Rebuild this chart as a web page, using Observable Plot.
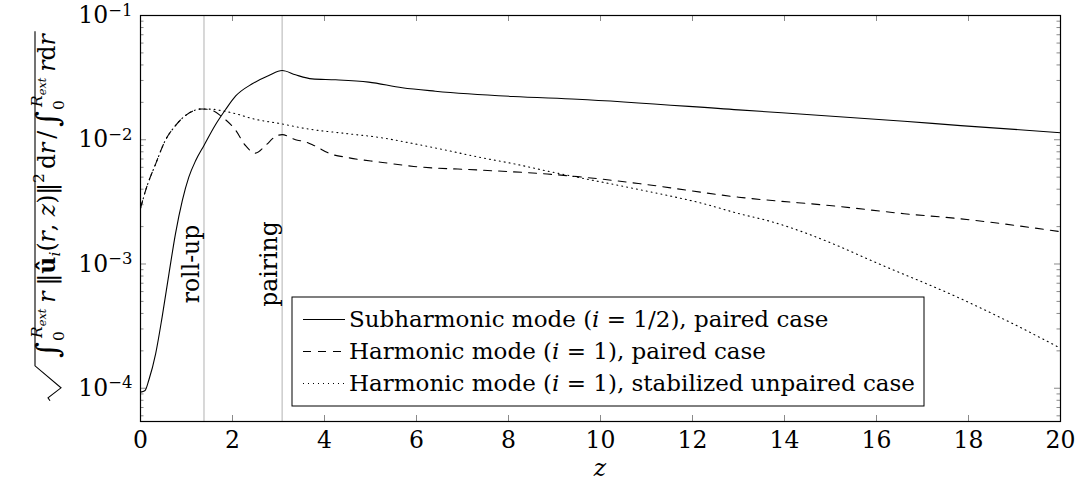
<!DOCTYPE html>
<html><head><meta charset="utf-8">
<script src="https://cdn.jsdelivr.net/npm/d3@7"></script>
<script src="https://cdn.jsdelivr.net/npm/@observablehq/plot@0.6"></script>
<style>body{margin:0;background:#fff}</style>
</head><body><div id="chart"></div>
<script>
// ---- data ----
const subZ = [0, 0.1, 0.18, 0.33, 0.47, 0.62, 0.76, 0.91, 1.05, 1.2, 1.38, 1.63, 1.85, 2.07, 2.43, 2.79, 3.08, 3.37, 3.73, 4.24, 4.96, 5.69, 6.41, 8.1, 9.5, 13.0, 16.6, 17.83, 20];
const subV = [9.3e-5, 9.6e-5, 1.16e-4, 1.9e-4, 3.74e-4, 8.4e-4, 1.75e-3, 3.25e-3, 5.0e-3, 6.8e-3, 9.0e-3, 0.0132, 0.0175, 0.0225, 0.0282, 0.0329, 0.0361, 0.0333, 0.0309, 0.0304, 0.0291, 0.0262, 0.0246, 0.0223, 0.0212, 0.0174, 0.0141, 0.0130, 0.0114];

const harmZ = [0, 0.11, 0.33, 0.54, 0.76, 0.98, 1.34, 1.56, 1.78, 2.07, 2.28, 2.5, 2.72, 2.93, 3.08, 3.37, 3.59, 3.77, 4.13, 4.49, 5.22, 5.94, 7.39, 8.84, 9.5, 10.87, 13.0, 15.2, 16.6, 17.83, 20];
const harmV = [2.8e-3, 3.9e-3, 6.4e-3, 9.9e-3, 0.0130, 0.0157, 0.0177, 0.0172, 0.0152, 0.0119, 9.0e-3, 7.8e-3, 9.0e-3, 0.0106, 0.0110, 0.0100, 9.6e-3, 9.0e-3, 7.7e-3, 7.2e-3, 6.6e-3, 6.1e-3, 5.7e-3, 5.3e-3, 5.05e-3, 4.42e-3, 3.45e-3, 2.9e-3, 2.54e-3, 2.31e-3, 1.82e-3];

const stabZ = [0, 0.11, 0.33, 0.54, 0.76, 0.98, 1.34, 1.56, 1.78, 2.07, 2.43, 3.08, 3.59, 4.49, 5.22, 5.94, 6.67, 7.39, 8.12, 8.84, 9.49, 10.8, 12.25, 13.0, 13.7, 15.2, 15.8, 17.83, 18.9, 20];
const stabV = [2.8e-3, 3.9e-3, 6.4e-3, 9.9e-3, 0.0130, 0.0157, 0.0177, 0.0176, 0.0171, 0.0162, 0.0148, 0.0134, 0.0123, 0.0112, 0.0104, 9.3e-3, 8.2e-3, 7.2e-3, 6.4e-3, 5.6e-3, 5.0e-3, 4.0e-3, 3.05e-3, 2.55e-3, 2.2e-3, 1.38e-3, 1.1e-3, 5.26e-4, 3.4e-4, 2.1e-4];

const xTicks = [0, 2, 4, 6, 8, 10, 12, 14, 16, 18, 20];
const yTicks = [1e-4, 1e-3, 1e-2, 1e-1];
const yTickExp = ["−4", "−3", "−2", "−1"];
const eventZ = [1.38, 3.08];
const eventLabels = ["roll-up", "pairing"];
const eventLabelY = 1e-3;
const legendParts = [
  ["Subharmonic mode (", "i", " = 1/2), paired case"],
  ["Harmonic mode (", "i", " = 1), paired case"],
  ["Harmonic mode (", "i", " = 1), stabilized unpaired case"]
];
const xLabel = "z";

// ---- layout / style ----
const W = 1084, H = 483, mL = 140, mR = 24, mT = 15, mB = 62;
const FW = W - mL - mR, FH = H - mT - mB;
const yMin = 5.4e-5, yMax = 0.1;
const FS = 23.5, LFS = 23;
const FONT = "DejaVu Serif";
const dashes = ["none", "8,7", "1,4"];

const rows = (zs, vs) => zs.map((z, i) => ({z, v: vs[i]}));
const sub = rows(subZ, subV), harm = rows(harmZ, harmV), stab = rows(stabZ, stabV);

const minorY = [];
for (let e = -5; e <= -2; e++) for (let k = 2; k <= 9; k++) {
  const v = k * Math.pow(10, e);
  if (v >= yMin && v <= yMax) minorY.push(v);
}

const plot = Plot.plot({
  width: W, height: H,
  marginLeft: mL, marginRight: mR, marginTop: mT, marginBottom: mB,
  style: {fontFamily: FONT, fontSize: FS + "px", background: "white", color: "black"},
  x: {domain: [0, 20], label: null},
  y: {type: "log", domain: [yMin, yMax], label: null},
  marks: [
    Plot.ruleX(eventZ, {stroke: "#cfcfcf", strokeWidth: 1.6}),
    Plot.ruleX(xTicks, {stroke: "#8a8a8a", insetTop: FH - 6}),
    Plot.ruleX(xTicks, {stroke: "#8a8a8a", insetBottom: FH - 6}),
    Plot.ruleY(yTicks, {stroke: "#8a8a8a", insetRight: FW - 6}),
    Plot.ruleY(yTicks, {stroke: "#8a8a8a", insetLeft: FW - 6}),
    Plot.ruleY(minorY, {stroke: "#8a8a8a", insetRight: FW - 3.5}),
    Plot.ruleY(minorY, {stroke: "#8a8a8a", insetLeft: FW - 3.5}),
    Plot.axisX(xTicks, {tickSize: 0, tickPadding: 10, tickFormat: d => String(d), fill: "black"}),
    Plot.axisY(yTicks, {tickSize: 0, tickPadding: 8, tickFormat: d => "10" + yTickExp[yTicks.indexOf(d)], fill: "black"}),
    Plot.line(stab, {x: "z", y: "v", stroke: "black", strokeWidth: 1.1, strokeDasharray: dashes[2], curve: "monotone-x"}),
    Plot.line(harm, {x: "z", y: "v", stroke: "black", strokeWidth: 1.1, strokeDasharray: dashes[1], curve: "monotone-x"}),
    Plot.line(sub, {x: "z", y: "v", stroke: "black", strokeWidth: 1.1, curve: "monotone-x"}),
    Plot.text(eventLabels, {x: (d, i) => eventZ[i], y: () => eventLabelY, text: d => d, rotate: -90,
      textAnchor: "middle", lineAnchor: "middle", dx: -12.5, fontSize: FS, fill: "black"}),
    Plot.frame({stroke: "black", strokeWidth: 1.2})
  ]
});
document.getElementById("chart").appendChild(plot);

const svg = d3.select(plot);

// y tick labels with superscripts
svg.selectAll('g[aria-label="y-axis tick label"] text').each(function () {
  const t = d3.select(this);
  const s = t.text();
  t.text("");
  t.append("tspan").text(s.slice(0, 2));
  t.append("tspan").attr("dy", "-0.45em").attr("font-size", "0.7em").text(s.slice(2));
});

// x label
svg.append("text").attr("x", mL + FW / 2).attr("y", 476).attr("text-anchor", "middle")
  .attr("font-style", "italic").attr("font-size", FS).attr("fill", "black").text(xLabel);

// legend
const lg = svg.append("g").attr("font-size", LFS).attr("fill", "black").attr("text-anchor", "start");
lg.append("rect").attr("x", 292).attr("y", 297).attr("width", 632).attr("height", 109)
  .attr("fill", "white").attr("stroke", "black").attr("stroke-width", 1);
legendParts.forEach((parts, i) => {
  const base = 327 + i * 32;
  lg.append("line").attr("x1", 303).attr("x2", 345).attr("y1", base - 7.5).attr("y2", base - 7.5)
    .attr("stroke", "black").attr("stroke-width", 1.1).attr("stroke-dasharray", dashes[i]);
  const t = lg.append("text").attr("x", 349).attr("y", base).attr("text-anchor", "start");
  t.append("tspan").text(parts[0]);
  t.append("tspan").attr("font-style", "italic").text(parts[1]);
  t.append("tspan").text(parts[2]);
});

// y-axis label (rotated math expression)
const yl = svg.append("g").attr("fill", "black").attr("font-size", FS).attr("text-anchor", "start");
let cx = 0;
function put(str, o = {}) {
  const x0 = o.x != null ? o.x : cx;
  const t = yl.append("text").attr("x", x0).attr("y", o.y || 0).attr("text-anchor", "start")
    .attr("font-size", FS * (o.s || 1)).text(str);
  if (o.it) t.attr("font-style", "italic");
  if (o.b) t.attr("font-weight", "bold");
  const end = x0 + t.node().getComputedTextLength();
  if (o.x == null) cx = end;
  return end;
}
function integral() {
  put("∫", {s: 1.3, y: 3});
  const xs = cx;
  const e1 = put("0", {x: xs + 1, s: 0.66, y: 9});
  const e2 = put("R", {x: xs + 4, s: 0.66, y: -13, it: true});
  const e3 = put("ext", {x: e2, s: 0.48, y: -9, it: true});
  cx = Math.max(e1, e3);
}
integral(); cx += 6;
put("r", {it: true}); cx += 6;
put("‖"); put("û", {b: true}); put("i", {it: true, s: 0.66, y: 5});
put("("); put("r", {it: true}); put(", "); put("z", {it: true}); put(")");
put("‖"); put("2", {s: 0.66, y: -11}); cx += 4;
put("d"); put("r", {it: true}); cx += 4;
put("/"); cx += 4;
integral(); cx += 6;
put("r", {it: true}); put("d"); put("r", {it: true});
const len = cx;
const baseX = 55, centerY = 196;
const startY = centerY + len / 2;
yl.attr("transform", `translate(${baseX},${startY}) rotate(-90)`);
// radical sign
yl.append("path")
  .attr("d", `M${len + 3},-20 L-8,-20 L-30,6 L-40,-7 L-43,-5`)
  .attr("fill", "none").attr("stroke", "black").attr("stroke-width", 1.1);
</script>
</body></html>
